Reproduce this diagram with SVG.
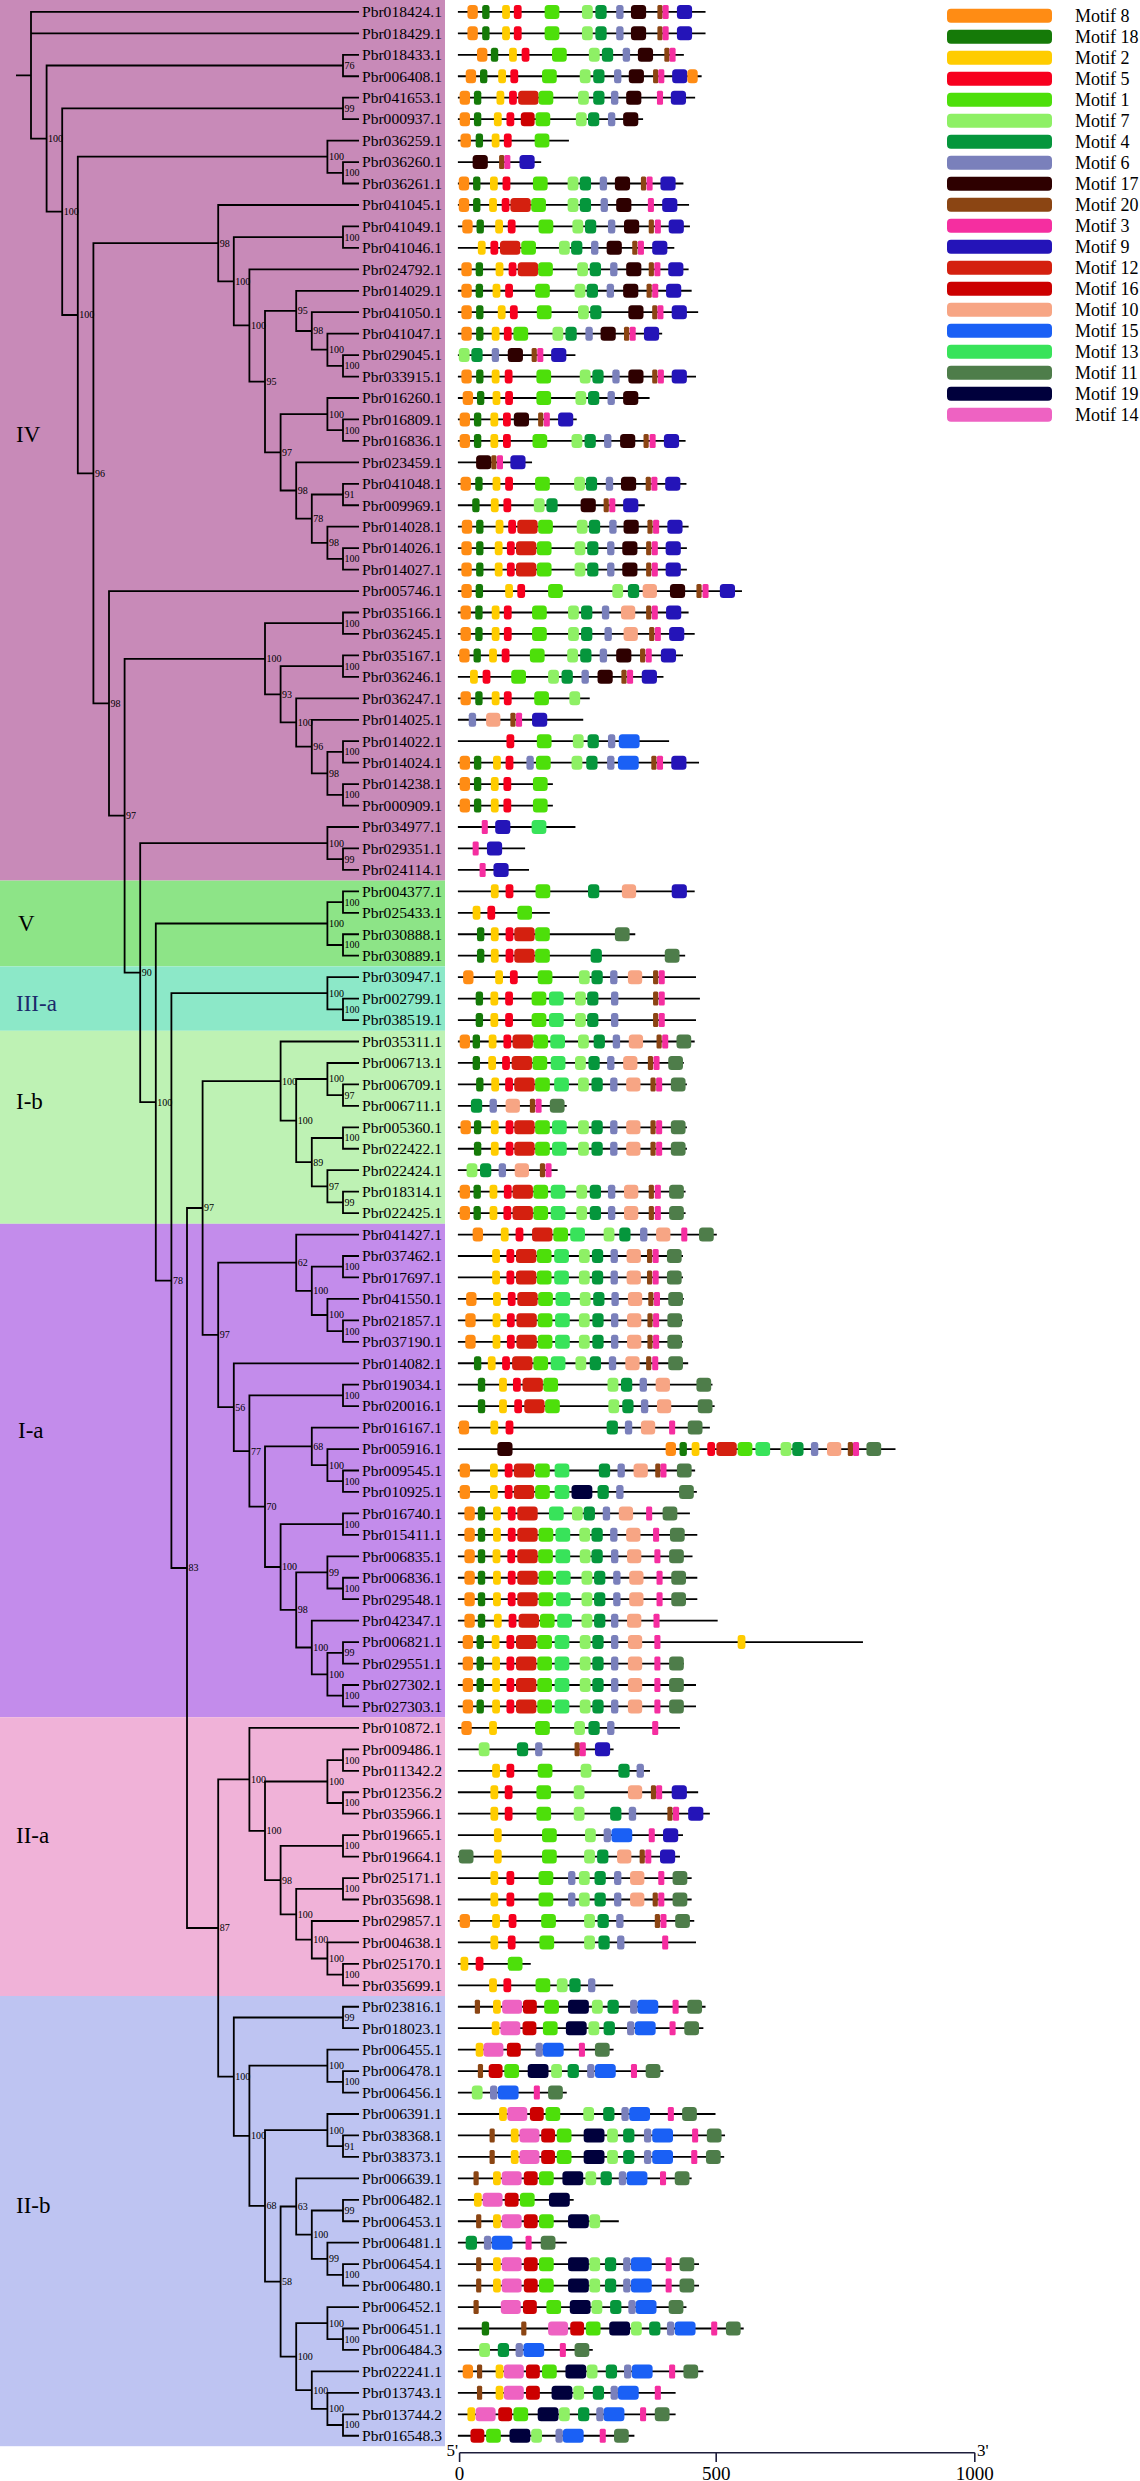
<svg xmlns="http://www.w3.org/2000/svg" width="1140" height="2481" viewBox="0 0 1140 2481">
<style>
.tree path{fill:none;stroke:#000;stroke-width:1.8}
.bs text{font:10px "Liberation Serif",serif;fill:#000}
.row text{font:15px "Liberation Serif",serif;fill:#000}
.row path{stroke:#000;stroke-width:1.8;fill:none}
.cl{font:23px "Liberation Serif",serif;fill:#000}
.lg text{font:18px "Liberation Serif",serif;fill:#000}
.ax text{font:19px "Liberation Serif",serif;fill:#000}
</style>
<defs>
<rect id="m8" y="-7" width="24" height="14" rx="8" ry="3.5" fill="#ff8c14"/>
<rect id="m18" y="-7" width="17" height="14" rx="5" ry="2.5" fill="#157a08"/>
<rect id="m2" y="-7" width="18" height="14" rx="6" ry="3" fill="#ffcc00"/>
<rect id="m5" y="-7" width="18" height="14" rx="6" ry="3" fill="#f7001e"/>
<rect id="m1" y="-7" width="34" height="14" rx="8" ry="3.5" fill="#4ddf0a"/>
<rect id="m7" y="-7" width="25" height="14" rx="8" ry="3.5" fill="#8ef065"/>
<rect id="m4" y="-7" width="26" height="14" rx="8" ry="3.5" fill="#05963c"/>
<rect id="m6" y="-7" width="17" height="14" rx="5" ry="2.5" fill="#7a80bb"/>
<rect id="m17" y="-7" width="35" height="14" rx="8" ry="3.5" fill="#2e0000"/>
<rect id="m20" y="-7" width="12" height="14" rx="3" ry="1.5" fill="#8b4513"/>
<rect id="m3" y="-7" width="14" height="14" rx="3" ry="1.5" fill="#f52ea0"/>
<rect id="m9" y="-7" width="35" height="14" rx="8" ry="3.5" fill="#2414b8"/>
<rect id="m12" y="-7" width="47" height="14" rx="8" ry="3.5" fill="#d4200f"/>
<rect id="m16" y="-7" width="32" height="14" rx="8" ry="3.5" fill="#cc0000"/>
<rect id="m10" y="-7" width="33" height="14" rx="8" ry="3.5" fill="#f7a584"/>
<rect id="m15" y="-7" width="48" height="14" rx="8" ry="3.5" fill="#1a60f5"/>
<rect id="m13" y="-7" width="34" height="14" rx="8" ry="3.5" fill="#38e35a"/>
<rect id="m11" y="-7" width="34" height="14" rx="8" ry="3.5" fill="#4e7d4a"/>
<rect id="m19" y="-7" width="48" height="14" rx="8" ry="3.5" fill="#00003c"/>
<rect id="m14" y="-7" width="46" height="14" rx="8" ry="3.5" fill="#ee62c2"/>
</defs>
<rect width="1140" height="2481" fill="#fff"/>
<g id="bands">
<rect x="0" y="0" width="445" height="880.6" fill="#c88ab8"/>
<rect x="0" y="880.6" width="445" height="85.8" fill="#8de487"/>
<rect x="0" y="966.4" width="445" height="64.4" fill="#8ce8c8"/>
<rect x="0" y="1030.8" width="445" height="193" fill="#bef2b4"/>
<rect x="0" y="1223.8" width="445" height="493.4" fill="#c38ceb"/>
<rect x="0" y="1717.2" width="445" height="278.8" fill="#f0b2d8"/>
<rect x="0" y="1996" width="445" height="450.2" fill="#bec4f2"/>
</g>
<g id="clades">
<text class="cl" x="16" y="441.7">IV</text>
<text class="cl" x="18" y="930.5">V</text>
<text class="cl" x="16" y="1011" style="fill:#1b2a6b">III-a</text>
<text class="cl" x="16" y="1109">I-b</text>
<text class="cl" x="18" y="1438">I-a</text>
<text class="cl" x="16" y="1843">II-a</text>
<text class="cl" x="16" y="2212.5">II-b</text>
</g>
<g id="connectors" class="tree" transform="translate(0,1.2)">
<path d="M16 74.1H31M359 10.7H31V137.4H46.6M31 32.15H359"/>
<path d="M343 64.3H46.6V210.5H62.2"/>
<path d="M343 107.2H62.2V313.8H77.8"/>
<path d="M327.4 155.5H77.8V472.1H93.4"/>
<path d="M359 139.4H327.4V171.6H343"/>
<path d="M218.2 241.9H93.4V702.2H109"/>
<path d="M359 203.8H218.2V280.1H233.8"/>
<path d="M343 235.9H233.8V324.2H249.4"/>
<path d="M359 268.1H249.4V380.4H265"/>
<path d="M296.2 309.7H265V451.1H280.6"/>
<path d="M359 289.6H296.2V329.8H311.8"/>
<path d="M359 311H311.8V348.5H327.4"/>
<path d="M359 332.5H327.4V364.6H343"/>
<path d="M327.4 412.9H280.6V489.3H296.2"/>
<path d="M359 396.8H327.4V429H343"/>
<path d="M359 461.2H296.2V517.5H311.8"/>
<path d="M343 493.3H311.8V541.6H327.4"/>
<path d="M359 525.5H327.4V557.7H343"/>
<path d="M359 589.9H109V814.5H124.6"/>
<path d="M265 657.6H124.6V971.4H140.2"/>
<path d="M343 622H265V693.1H280.6"/>
<path d="M343 664.9H280.6V721.2H296.2"/>
<path d="M359 697.1H296.2V745.4H311.8"/>
<path d="M359 718.6H311.8V772.2H327.4"/>
<path d="M343 750.7H327.4V793.6H343"/>
<path d="M327.4 841.9H140.2V1100.9H155.8"/>
<path d="M359 825.8H327.4V858H343"/>
<path d="M327.4 922.3H155.8V1279.4H171.4"/>
<path d="M343 900.9H327.4V943.8H343"/>
<path d="M327.4 992H171.4V1566.8H187"/>
<path d="M359 976H327.4V1008.1H343"/>
<path d="M202.6 1206.8H187V1926.8H218.2"/>
<path d="M280.6 1079.9H202.6V1333.7H218.2"/>
<path d="M359 1040.3H280.6V1119.4H296.2"/>
<path d="M327.4 1077.8H296.2V1161H311.8"/>
<path d="M359 1061.8H327.4V1093.9H343"/>
<path d="M343 1136.8H311.8V1185.1H327.4"/>
<path d="M359 1169H327.4V1201.2H343"/>
<path d="M296.2 1261.5H218.2V1406H233.8"/>
<path d="M359 1233.4H296.2V1289.7H311.8"/>
<path d="M343 1265.5H311.8V1313.8H327.4"/>
<path d="M359 1297.7H327.4V1329.9H343"/>
<path d="M359 1362.1H233.8V1449.9H249.4"/>
<path d="M343 1394.2H249.4V1505.5H265"/>
<path d="M311.8 1445.2H265V1565.8H280.6"/>
<path d="M359 1426.4H311.8V1463.9H327.4"/>
<path d="M359 1447.9H327.4V1480H343"/>
<path d="M343 1522.9H280.6V1608.7H296.2"/>
<path d="M327.4 1571.2H296.2V1646.3H311.8"/>
<path d="M359 1555.1H327.4V1587.3H343"/>
<path d="M359 1619.5H311.8V1673.1H327.4"/>
<path d="M343 1651.6H327.4V1694.5H343"/>
<path d="M249.4 1778.2H218.2V2075.4H233.8"/>
<path d="M359 1726.7H249.4V1829.6H265"/>
<path d="M327.4 1780.3H265V1878.9H280.6"/>
<path d="M343 1758.9H327.4V1801.8H343"/>
<path d="M343 1844.7H280.6V1913.1H296.2"/>
<path d="M343 1887.6H296.2V1938.5H311.8"/>
<path d="M359 1919.8H311.8V1957.3H327.4"/>
<path d="M359 1941.2H327.4V1973.4H343"/>
<path d="M343 2016.3H233.8V2134.6H249.4"/>
<path d="M327.4 2064.5H249.4V2204.6H265"/>
<path d="M359 2048.5H327.4V2080.6H343"/>
<path d="M327.4 2128.9H265V2280.4H280.6"/>
<path d="M359 2112.8H327.4V2145H343"/>
<path d="M296.2 2205.3H280.6V2355.5H296.2"/>
<path d="M359 2177.2H296.2V2233.5H311.8"/>
<path d="M343 2209.3H311.8V2257.6H327.4"/>
<path d="M359 2241.5H327.4V2273.7H343"/>
<path d="M327.4 2321.9H296.2V2389H311.8"/>
<path d="M359 2305.9H327.4V2338H343"/>
<path d="M359 2370.2H311.8V2407.7H327.4"/>
<path d="M359 2391.7H327.4V2423.8H343"/>
<path d="M359 53.6H343V75.05H359M359 96.5H343V117.95H359M359 160.85H343V182.3H359M359 225.2H343V246.65H359M359 353.9H343V375.35H359M359 418.25H343V439.7H359M359 482.6H343V504.05H359M359 546.95H343V568.4H359M359 611.3H343V632.75H359M359 654.2H343V675.65H359M359 740H343V761.45H359M359 782.9H343V804.35H359M359 847.25H343V868.7H359M359 890.15H343V911.6H359M359 933.05H343V954.5H359M359 997.4H343V1018.85H359M359 1083.2H343V1104.65H359M359 1126.1H343V1147.55H359M359 1190.45H343V1211.9H359M359 1254.8H343V1276.25H359M359 1319.15H343V1340.6H359M359 1383.5H343V1404.95H359M359 1469.3H343V1490.75H359M359 1512.2H343V1533.65H359M359 1576.55H343V1598H359M359 1640.9H343V1662.35H359M359 1683.8H343V1705.25H359M359 1748.15H343V1769.6H359M359 1791.05H343V1812.5H359M359 1833.95H343V1855.4H359M359 1876.85H343V1898.3H359M359 1962.65H343V1984.1H359M359 2005.55H343V2027H359M359 2069.9H343V2091.35H359M359 2134.25H343V2155.7H359M359 2198.6H343V2220.05H359M359 2262.95H343V2284.4H359M359 2327.3H343V2348.75H359M359 2413.1H343V2434.55H359"/>
</g>
<g id="bootstrap" class="bs" transform="translate(0,1.2)">
<text x="48.1" y="140.9">100</text><text x="63.7" y="214">100</text><text x="79.3" y="317.3">100</text><text x="94.9" y="475.6">96</text><text x="110.5" y="705.7">98</text><text x="126.1" y="818">97</text><text x="141.7" y="974.9">90</text><text x="157.3" y="1104.4">100</text><text x="172.9" y="1282.9">78</text><text x="188.5" y="1570.3">83</text><text x="204.1" y="1210.3">97</text>
<text x="219.7" y="245.4">98</text><text x="235.3" y="283.6">100</text><text x="250.9" y="327.7">100</text><text x="266.5" y="383.9">95</text><text x="297.7" y="313.2">95</text><text x="313.3" y="333.3">98</text><text x="328.9" y="352">100</text><text x="344.5" y="368.1">100</text><text x="282.1" y="454.6">97</text><text x="328.9" y="416.4">100</text><text x="344.5" y="432.5">100</text><text x="297.7" y="492.8">98</text><text x="313.3" y="521">78</text><text x="344.5" y="496.8">91</text><text x="328.9" y="545.1">98</text><text x="344.5" y="561.2">100</text>
<text x="344.5" y="67.8">76</text><text x="344.5" y="110.7">99</text><text x="328.9" y="159">100</text><text x="344.5" y="175.1">100</text><text x="344.5" y="239.4">100</text>
<text x="266.5" y="661.1">100</text><text x="344.5" y="625.5">100</text><text x="282.1" y="696.6">93</text><text x="344.5" y="668.4">100</text><text x="297.7" y="724.7">100</text><text x="313.3" y="748.9">96</text><text x="328.9" y="775.7">98</text><text x="344.5" y="754.2">100</text><text x="344.5" y="797.1">100</text>
<text x="328.9" y="845.4">100</text><text x="344.5" y="861.5">99</text><text x="328.9" y="925.8">100</text><text x="344.5" y="904.4">100</text><text x="344.5" y="947.3">100</text><text x="328.9" y="995.5">100</text><text x="344.5" y="1011.6">100</text>
<text x="282.1" y="1083.4">100</text><text x="297.7" y="1122.9">100</text><text x="328.9" y="1081.3">100</text><text x="344.5" y="1097.4">97</text><text x="313.3" y="1164.5">89</text><text x="344.5" y="1140.3">100</text><text x="328.9" y="1188.6">97</text><text x="344.5" y="1204.7">99</text>
<text x="219.7" y="1337.2">97</text><text x="297.7" y="1265">62</text><text x="313.3" y="1293.2">100</text><text x="344.5" y="1269">100</text><text x="328.9" y="1317.3">100</text><text x="344.5" y="1333.4">100</text><text x="235.3" y="1409.5">56</text><text x="250.9" y="1453.4">77</text><text x="344.5" y="1397.7">100</text><text x="266.5" y="1509">70</text><text x="313.3" y="1448.7">68</text><text x="328.9" y="1467.4">100</text><text x="344.5" y="1483.5">100</text><text x="282.1" y="1569.3">100</text><text x="344.5" y="1526.4">100</text><text x="297.7" y="1612.2">98</text><text x="328.9" y="1574.7">99</text><text x="344.5" y="1590.8">100</text><text x="313.3" y="1649.8">100</text><text x="328.9" y="1676.6">100</text><text x="344.5" y="1655.1">99</text><text x="344.5" y="1698">100</text>
<text x="219.7" y="1930.3">87</text><text x="250.9" y="1781.7">100</text><text x="266.5" y="1833.1">100</text><text x="328.9" y="1783.8">100</text><text x="344.5" y="1762.4">100</text><text x="344.5" y="1805.3">100</text><text x="282.1" y="1882.4">98</text><text x="344.5" y="1848.2">100</text><text x="297.7" y="1916.6">100</text><text x="344.5" y="1891.1">100</text><text x="313.3" y="1942">100</text><text x="328.9" y="1960.8">100</text><text x="344.5" y="1976.9">100</text>
<text x="235.3" y="2078.9">100</text><text x="344.5" y="2019.8">99</text><text x="250.9" y="2138.1">100</text><text x="328.9" y="2068">100</text><text x="344.5" y="2084.1">100</text><text x="266.5" y="2208.1">68</text><text x="328.9" y="2132.4">100</text><text x="344.5" y="2148.5">91</text><text x="282.1" y="2283.9">58</text><text x="297.7" y="2208.8">63</text><text x="313.3" y="2237">100</text><text x="344.5" y="2212.8">99</text><text x="328.9" y="2261.1">99</text><text x="344.5" y="2277.2">100</text><text x="297.7" y="2359">100</text><text x="328.9" y="2325.4">100</text><text x="344.5" y="2341.5">100</text><text x="313.3" y="2392.5">100</text><text x="328.9" y="2411.2">100</text><text x="344.5" y="2427.3">100</text>
</g>
<g id="genes" transform="translate(0,1.2)">
<g class="row" id="Pbr018424_1" transform="translate(0,10.7)"><text x="362" y="5.3" textLength="80" lengthAdjust="spacingAndGlyphs">Pbr018424.1</text><g transform="matrix(.4337 0 0 1 310 0)"><path d="M341 0H912"/><use href="#m8" x="363"/><use href="#m18" x="397"/><use href="#m2" x="443"/><use href="#m5" x="470"/><use href="#m1" x="541"/><use href="#m7" x="627"/><use href="#m4" x="658"/><use href="#m6" x="706"/><use href="#m17" x="740"/><use href="#m20" x="801"/><use href="#m3" x="813"/><use href="#m9" x="846"/></g></g>
<g class="row" id="Pbr018429_1" transform="translate(0,32.15)"><text x="362" y="5.3" textLength="80" lengthAdjust="spacingAndGlyphs">Pbr018429.1</text><g transform="matrix(.4337 0 0 1 310 0)"><path d="M341 0H912"/><use href="#m8" x="363"/><use href="#m18" x="397"/><use href="#m2" x="443"/><use href="#m5" x="470"/><use href="#m1" x="541"/><use href="#m7" x="627"/><use href="#m4" x="658"/><use href="#m6" x="706"/><use href="#m17" x="740"/><use href="#m20" x="801"/><use href="#m3" x="813"/><use href="#m9" x="846"/></g></g>
<g class="row" id="Pbr018433_1" transform="translate(0,53.6)"><text x="362" y="5.3" textLength="80" lengthAdjust="spacingAndGlyphs">Pbr018433.1</text><g transform="matrix(.4337 0 0 1 310 0)"><path d="M341 0H862"/><use href="#m8" x="385"/><use href="#m18" x="417"/><use href="#m2" x="459"/><use href="#m5" x="488"/><use href="#m1" x="558"/><use href="#m7" x="643"/><use href="#m4" x="673"/><use href="#m6" x="721"/><use href="#m17" x="756"/><use href="#m20" x="817"/><use href="#m3" x="829"/></g></g>
<g class="row" id="Pbr006408_1" transform="translate(0,75.05)"><text x="362" y="5.3" textLength="80" lengthAdjust="spacingAndGlyphs">Pbr006408.1</text><g transform="matrix(.4337 0 0 1 310 0)"><path d="M341 0H903"/><use href="#m8" x="359"/><use href="#m18" x="392"/><use href="#m2" x="434"/><use href="#m5" x="462"/><use href="#m1" x="535"/><use href="#m7" x="622"/><use href="#m4" x="653"/><use href="#m6" x="701"/><use href="#m17" x="735"/><use href="#m20" x="791"/><use href="#m3" x="803"/><use href="#m9" x="835"/><use href="#m8" x="870"/></g></g>
<g class="row" id="Pbr041653_1" transform="translate(0,96.5)"><text x="362" y="5.3" textLength="80" lengthAdjust="spacingAndGlyphs">Pbr041653.1</text><g transform="matrix(.4337 0 0 1 310 0)"><path d="M341 0H888"/><use href="#m8" x="345"/><use href="#m18" x="378"/><use href="#m2" x="430"/><use href="#m5" x="459"/><use href="#m12" x="480"/><use href="#m1" x="527"/><use href="#m7" x="618"/><use href="#m4" x="653"/><use href="#m6" x="694"/><use href="#m17" x="729"/><use href="#m3" x="800"/><use href="#m9" x="832"/></g></g>
<g class="row" id="Pbr000937_1" transform="translate(0,117.95)"><text x="362" y="5.3" textLength="80" lengthAdjust="spacingAndGlyphs">Pbr000937.1</text><g transform="matrix(.4337 0 0 1 310 0)"><path d="M341 0H768"/><use href="#m8" x="345"/><use href="#m18" x="378"/><use href="#m2" x="424"/><use href="#m5" x="453"/><use href="#m16" x="486"/><use href="#m1" x="520"/><use href="#m7" x="613"/><use href="#m4" x="641"/><use href="#m6" x="687"/><use href="#m17" x="722"/></g></g>
<g class="row" id="Pbr036259_1" transform="translate(0,139.4)"><text x="362" y="5.3" textLength="80" lengthAdjust="spacingAndGlyphs">Pbr036259.1</text><g transform="matrix(.4337 0 0 1 310 0)"><path d="M341 0H597"/><use href="#m8" x="347"/><use href="#m18" x="382"/><use href="#m2" x="419"/><use href="#m5" x="447"/><use href="#m1" x="518"/></g></g>
<g class="row" id="Pbr036260_1" transform="translate(0,160.85)"><text x="362" y="5.3" textLength="80" lengthAdjust="spacingAndGlyphs">Pbr036260.1</text><g transform="matrix(.4337 0 0 1 310 0)"><path d="M341 0H533"/><use href="#m17" x="375"/><use href="#m20" x="436"/><use href="#m3" x="448"/><use href="#m9" x="483"/></g></g>
<g class="row" id="Pbr036261_1" transform="translate(0,182.3)"><text x="362" y="5.3" textLength="80" lengthAdjust="spacingAndGlyphs">Pbr036261.1</text><g transform="matrix(.4337 0 0 1 310 0)"><path d="M341 0H861"/><use href="#m8" x="343"/><use href="#m18" x="376"/><use href="#m2" x="415"/><use href="#m5" x="444"/><use href="#m1" x="514"/><use href="#m7" x="594"/><use href="#m4" x="622"/><use href="#m6" x="668"/><use href="#m17" x="703"/><use href="#m20" x="763"/><use href="#m3" x="776"/><use href="#m9" x="808"/></g></g>
<g class="row" id="Pbr041045_1" transform="translate(0,203.75)"><text x="362" y="5.3" textLength="80" lengthAdjust="spacingAndGlyphs">Pbr041045.1</text><g transform="matrix(.4337 0 0 1 310 0)"><path d="M341 0H874"/><use href="#m8" x="343"/><use href="#m18" x="376"/><use href="#m2" x="413"/><use href="#m5" x="442"/><use href="#m12" x="462"/><use href="#m1" x="510"/><use href="#m7" x="594"/><use href="#m4" x="622"/><use href="#m6" x="670"/><use href="#m17" x="706"/><use href="#m3" x="779"/><use href="#m9" x="812"/></g></g>
<g class="row" id="Pbr041049_1" transform="translate(0,225.2)"><text x="362" y="5.3" textLength="80" lengthAdjust="spacingAndGlyphs">Pbr041049.1</text><g transform="matrix(.4337 0 0 1 310 0)"><path d="M341 0H876"/><use href="#m8" x="351"/><use href="#m18" x="384"/><use href="#m2" x="427"/><use href="#m5" x="456"/><use href="#m1" x="527"/><use href="#m7" x="605"/><use href="#m4" x="634"/><use href="#m6" x="687"/><use href="#m17" x="724"/><use href="#m20" x="781"/><use href="#m3" x="795"/><use href="#m9" x="827"/></g></g>
<g class="row" id="Pbr041046_1" transform="translate(0,246.65)"><text x="362" y="5.3" textLength="80" lengthAdjust="spacingAndGlyphs">Pbr041046.1</text><g transform="matrix(.4337 0 0 1 310 0)"><path d="M341 0H840"/><use href="#m2" x="387"/><use href="#m5" x="416"/><use href="#m12" x="438"/><use href="#m1" x="487"/><use href="#m7" x="574"/><use href="#m4" x="602"/><use href="#m6" x="648"/><use href="#m17" x="684"/><use href="#m20" x="743"/><use href="#m3" x="756"/><use href="#m9" x="789"/></g></g>
<g class="row" id="Pbr024792_1" transform="translate(0,268.1)"><text x="362" y="5.3" textLength="80" lengthAdjust="spacingAndGlyphs">Pbr024792.1</text><g transform="matrix(.4337 0 0 1 310 0)"><path d="M341 0H873"/><use href="#m8" x="349"/><use href="#m18" x="382"/><use href="#m2" x="428"/><use href="#m5" x="458"/><use href="#m12" x="479"/><use href="#m1" x="526"/><use href="#m7" x="616"/><use href="#m4" x="645"/><use href="#m6" x="692"/><use href="#m17" x="729"/><use href="#m20" x="781"/><use href="#m3" x="794"/><use href="#m9" x="826"/></g></g>
<g class="row" id="Pbr014029_1" transform="translate(0,289.55)"><text x="362" y="5.3" textLength="80" lengthAdjust="spacingAndGlyphs">Pbr014029.1</text><g transform="matrix(.4337 0 0 1 310 0)"><path d="M341 0H880"/><use href="#m8" x="349"/><use href="#m18" x="382"/><use href="#m2" x="421"/><use href="#m5" x="450"/><use href="#m1" x="519"/><use href="#m7" x="610"/><use href="#m4" x="638"/><use href="#m6" x="684"/><use href="#m17" x="722"/><use href="#m20" x="776"/><use href="#m3" x="789"/><use href="#m9" x="821"/></g></g>
<g class="row" id="Pbr041050_1" transform="translate(0,311)"><text x="362" y="5.3" textLength="80" lengthAdjust="spacingAndGlyphs">Pbr041050.1</text><g transform="matrix(.4337 0 0 1 310 0)"><path d="M341 0H895"/><use href="#m8" x="349"/><use href="#m18" x="383"/><use href="#m2" x="433"/><use href="#m5" x="461"/><use href="#m1" x="523"/><use href="#m7" x="618"/><use href="#m4" x="646"/><use href="#m17" x="734"/><use href="#m20" x="789"/><use href="#m3" x="801"/><use href="#m9" x="834"/></g></g>
<g class="row" id="Pbr041047_1" transform="translate(0,332.45)"><text x="362" y="5.3" textLength="80" lengthAdjust="spacingAndGlyphs">Pbr041047.1</text><g transform="matrix(.4337 0 0 1 310 0)"><path d="M341 0H812"/><use href="#m8" x="349"/><use href="#m18" x="383"/><use href="#m2" x="419"/><use href="#m5" x="447"/><use href="#m1" x="469"/><use href="#m7" x="559"/><use href="#m4" x="589"/><use href="#m6" x="635"/><use href="#m17" x="670"/><use href="#m20" x="724"/><use href="#m3" x="737"/><use href="#m9" x="770"/></g></g>
<g class="row" id="Pbr029045_1" transform="translate(0,353.9)"><text x="362" y="5.3" textLength="80" lengthAdjust="spacingAndGlyphs">Pbr029045.1</text><g transform="matrix(.4337 0 0 1 310 0)"><path d="M341 0H612"/><use href="#m7" x="343"/><use href="#m4" x="372"/><use href="#m6" x="419"/><use href="#m17" x="456"/><use href="#m20" x="511"/><use href="#m3" x="524"/><use href="#m9" x="556"/></g></g>
<g class="row" id="Pbr033915_1" transform="translate(0,375.35)"><text x="362" y="5.3" textLength="80" lengthAdjust="spacingAndGlyphs">Pbr033915.1</text><g transform="matrix(.4337 0 0 1 310 0)"><path d="M341 0H890"/><use href="#m8" x="349"/><use href="#m18" x="383"/><use href="#m2" x="419"/><use href="#m5" x="449"/><use href="#m1" x="522"/><use href="#m7" x="622"/><use href="#m4" x="651"/><use href="#m6" x="697"/><use href="#m17" x="734"/><use href="#m20" x="789"/><use href="#m3" x="802"/><use href="#m9" x="834"/></g></g>
<g class="row" id="Pbr016260_1" transform="translate(0,396.8)"><text x="362" y="5.3" textLength="80" lengthAdjust="spacingAndGlyphs">Pbr016260.1</text><g transform="matrix(.4337 0 0 1 310 0)"><path d="M341 0H783"/><use href="#m8" x="352"/><use href="#m18" x="385"/><use href="#m2" x="421"/><use href="#m5" x="450"/><use href="#m1" x="522"/><use href="#m7" x="612"/><use href="#m4" x="641"/><use href="#m6" x="686"/><use href="#m17" x="722"/></g></g>
<g class="row" id="Pbr016809_1" transform="translate(0,418.25)"><text x="362" y="5.3" textLength="80" lengthAdjust="spacingAndGlyphs">Pbr016809.1</text><g transform="matrix(.4337 0 0 1 310 0)"><path d="M341 0H615"/><use href="#m8" x="345"/><use href="#m18" x="378"/><use href="#m2" x="416"/><use href="#m5" x="445"/><use href="#m17" x="470"/><use href="#m20" x="526"/><use href="#m3" x="539"/><use href="#m9" x="572"/></g></g>
<g class="row" id="Pbr016836_1" transform="translate(0,439.7)"><text x="362" y="5.3" textLength="80" lengthAdjust="spacingAndGlyphs">Pbr016836.1</text><g transform="matrix(.4337 0 0 1 310 0)"><path d="M341 0H866"/><use href="#m8" x="345"/><use href="#m18" x="378"/><use href="#m2" x="416"/><use href="#m5" x="445"/><use href="#m1" x="513"/><use href="#m7" x="603"/><use href="#m4" x="633"/><use href="#m6" x="678"/><use href="#m17" x="715"/><use href="#m20" x="769"/><use href="#m3" x="783"/><use href="#m9" x="816"/></g></g>
<g class="row" id="Pbr023459_1" transform="translate(0,461.15)"><text x="362" y="5.3" textLength="80" lengthAdjust="spacingAndGlyphs">Pbr023459.1</text><g transform="matrix(.4337 0 0 1 310 0)"><path d="M341 0H512"/><use href="#m17" x="383"/><use href="#m20" x="418"/><use href="#m3" x="431"/><use href="#m9" x="462"/></g></g>
<g class="row" id="Pbr041048_1" transform="translate(0,482.6)"><text x="362" y="5.3" textLength="80" lengthAdjust="spacingAndGlyphs">Pbr041048.1</text><g transform="matrix(.4337 0 0 1 310 0)"><path d="M341 0H868"/><use href="#m8" x="347"/><use href="#m18" x="381"/><use href="#m2" x="421"/><use href="#m5" x="450"/><use href="#m1" x="519"/><use href="#m7" x="609"/><use href="#m4" x="636"/><use href="#m6" x="682"/><use href="#m17" x="717"/><use href="#m20" x="774"/><use href="#m3" x="787"/><use href="#m9" x="819"/></g></g>
<g class="row" id="Pbr009969_1" transform="translate(0,504.05)"><text x="362" y="5.3" textLength="80" lengthAdjust="spacingAndGlyphs">Pbr009969.1</text><g transform="matrix(.4337 0 0 1 310 0)"><path d="M341 0H772"/><use href="#m18" x="374"/><use href="#m2" x="417"/><use href="#m5" x="446"/><use href="#m7" x="516"/><use href="#m4" x="545"/><use href="#m17" x="624"/><use href="#m20" x="677"/><use href="#m3" x="690"/><use href="#m9" x="722"/></g></g>
<g class="row" id="Pbr014028_1" transform="translate(0,525.5)"><text x="362" y="5.3" textLength="80" lengthAdjust="spacingAndGlyphs">Pbr014028.1</text><g transform="matrix(.4337 0 0 1 310 0)"><path d="M341 0H873"/><use href="#m8" x="350"/><use href="#m18" x="383"/><use href="#m2" x="428"/><use href="#m5" x="457"/><use href="#m12" x="478"/><use href="#m1" x="526"/><use href="#m7" x="615"/><use href="#m4" x="643"/><use href="#m6" x="690"/><use href="#m17" x="723"/><use href="#m20" x="778"/><use href="#m3" x="791"/><use href="#m9" x="824"/></g></g>
<g class="row" id="Pbr014026_1" transform="translate(0,546.95)"><text x="362" y="5.3" textLength="80" lengthAdjust="spacingAndGlyphs">Pbr014026.1</text><g transform="matrix(.4337 0 0 1 310 0)"><path d="M341 0H869"/><use href="#m8" x="349"/><use href="#m18" x="383"/><use href="#m2" x="426"/><use href="#m5" x="454"/><use href="#m12" x="475"/><use href="#m1" x="523"/><use href="#m7" x="610"/><use href="#m4" x="639"/><use href="#m6" x="685"/><use href="#m17" x="720"/><use href="#m20" x="775"/><use href="#m3" x="788"/><use href="#m9" x="820"/></g></g>
<g class="row" id="Pbr014027_1" transform="translate(0,568.4)"><text x="362" y="5.3" textLength="80" lengthAdjust="spacingAndGlyphs">Pbr014027.1</text><g transform="matrix(.4337 0 0 1 310 0)"><path d="M341 0H869"/><use href="#m8" x="349"/><use href="#m18" x="383"/><use href="#m2" x="426"/><use href="#m5" x="454"/><use href="#m12" x="475"/><use href="#m1" x="523"/><use href="#m7" x="610"/><use href="#m4" x="639"/><use href="#m6" x="685"/><use href="#m17" x="720"/><use href="#m20" x="775"/><use href="#m3" x="788"/><use href="#m9" x="820"/></g></g>
<g class="row" id="Pbr005746_1" transform="translate(0,589.85)"><text x="362" y="5.3" textLength="80" lengthAdjust="spacingAndGlyphs">Pbr005746.1</text><g transform="matrix(.4337 0 0 1 310 0)"><path d="M341 0H996"/><use href="#m8" x="349"/><use href="#m18" x="382"/><use href="#m2" x="450"/><use href="#m5" x="478"/><use href="#m1" x="549"/><use href="#m7" x="697"/><use href="#m4" x="733"/><use href="#m10" x="767"/><use href="#m17" x="830"/><use href="#m20" x="891"/><use href="#m3" x="905"/><use href="#m9" x="945"/></g></g>
<g class="row" id="Pbr035166_1" transform="translate(0,611.3)"><text x="362" y="5.3" textLength="80" lengthAdjust="spacingAndGlyphs">Pbr035166.1</text><g transform="matrix(.4337 0 0 1 310 0)"><path d="M341 0H873"/><use href="#m8" x="347"/><use href="#m18" x="381"/><use href="#m2" x="419"/><use href="#m5" x="447"/><use href="#m1" x="512"/><use href="#m7" x="595"/><use href="#m4" x="625"/><use href="#m6" x="673"/><use href="#m10" x="717"/><use href="#m20" x="775"/><use href="#m3" x="788"/><use href="#m9" x="821"/></g></g>
<g class="row" id="Pbr036245_1" transform="translate(0,632.75)"><text x="362" y="5.3" textLength="80" lengthAdjust="spacingAndGlyphs">Pbr036245.1</text><g transform="matrix(.4337 0 0 1 310 0)"><path d="M341 0H887"/><use href="#m8" x="347"/><use href="#m18" x="381"/><use href="#m2" x="419"/><use href="#m5" x="447"/><use href="#m1" x="512"/><use href="#m7" x="595"/><use href="#m4" x="625"/><use href="#m6" x="679"/><use href="#m10" x="723"/><use href="#m20" x="782"/><use href="#m3" x="795"/><use href="#m9" x="828"/></g></g>
<g class="row" id="Pbr035167_1" transform="translate(0,654.2)"><text x="362" y="5.3" textLength="80" lengthAdjust="spacingAndGlyphs">Pbr035167.1</text><g transform="matrix(.4337 0 0 1 310 0)"><path d="M341 0H860"/><use href="#m8" x="344"/><use href="#m18" x="377"/><use href="#m2" x="413"/><use href="#m5" x="442"/><use href="#m1" x="507"/><use href="#m7" x="593"/><use href="#m4" x="623"/><use href="#m6" x="668"/><use href="#m17" x="706"/><use href="#m20" x="761"/><use href="#m3" x="774"/><use href="#m9" x="809"/></g></g>
<g class="row" id="Pbr036246_1" transform="translate(0,675.65)"><text x="362" y="5.3" textLength="80" lengthAdjust="spacingAndGlyphs">Pbr036246.1</text><g transform="matrix(.4337 0 0 1 310 0)"><path d="M341 0H815"/><use href="#m2" x="369"/><use href="#m5" x="398"/><use href="#m1" x="464"/><use href="#m7" x="549"/><use href="#m4" x="580"/><use href="#m6" x="626"/><use href="#m17" x="663"/><use href="#m20" x="718"/><use href="#m3" x="731"/><use href="#m9" x="765"/></g></g>
<g class="row" id="Pbr036247_1" transform="translate(0,697.1)"><text x="362" y="5.3" textLength="80" lengthAdjust="spacingAndGlyphs">Pbr036247.1</text><g transform="matrix(.4337 0 0 1 310 0)"><path d="M341 0H645"/><use href="#m8" x="347"/><use href="#m18" x="381"/><use href="#m2" x="419"/><use href="#m5" x="447"/><use href="#m1" x="517"/><use href="#m7" x="598"/></g></g>
<g class="row" id="Pbr014025_1" transform="translate(0,718.55)"><text x="362" y="5.3" textLength="80" lengthAdjust="spacingAndGlyphs">Pbr014025.1</text><g transform="matrix(.4337 0 0 1 310 0)"><path d="M341 0H630"/><use href="#m6" x="366"/><use href="#m10" x="406"/><use href="#m20" x="462"/><use href="#m3" x="475"/><use href="#m9" x="512"/></g></g>
<g class="row" id="Pbr014022_1" transform="translate(0,740)"><text x="362" y="5.3" textLength="80" lengthAdjust="spacingAndGlyphs">Pbr014022.1</text><g transform="matrix(.4337 0 0 1 310 0)"><path d="M341 0H828"/><use href="#m5" x="453"/><use href="#m1" x="523"/><use href="#m7" x="606"/><use href="#m4" x="640"/><use href="#m6" x="687"/><use href="#m15" x="712"/></g></g>
<g class="row" id="Pbr014024_1" transform="translate(0,761.45)"><text x="362" y="5.3" textLength="80" lengthAdjust="spacingAndGlyphs">Pbr014024.1</text><g transform="matrix(.4337 0 0 1 310 0)"><path d="M341 0H897"/><use href="#m8" x="345"/><use href="#m18" x="378"/><use href="#m2" x="422"/><use href="#m5" x="451"/><use href="#m6" x="499"/><use href="#m1" x="521"/><use href="#m7" x="603"/><use href="#m4" x="637"/><use href="#m6" x="685"/><use href="#m15" x="710"/><use href="#m20" x="787"/><use href="#m3" x="800"/><use href="#m9" x="833"/></g></g>
<g class="row" id="Pbr014238_1" transform="translate(0,782.9)"><text x="362" y="5.3" textLength="80" lengthAdjust="spacingAndGlyphs">Pbr014238.1</text><g transform="matrix(.4337 0 0 1 310 0)"><path d="M341 0H560"/><use href="#m8" x="345"/><use href="#m18" x="378"/><use href="#m2" x="417"/><use href="#m5" x="446"/><use href="#m1" x="514"/></g></g>
<g class="row" id="Pbr000909_1" transform="translate(0,804.35)"><text x="362" y="5.3" textLength="80" lengthAdjust="spacingAndGlyphs">Pbr000909.1</text><g transform="matrix(.4337 0 0 1 310 0)"><path d="M341 0H560"/><use href="#m8" x="345"/><use href="#m18" x="378"/><use href="#m2" x="417"/><use href="#m5" x="446"/><use href="#m1" x="514"/></g></g>
<g class="row" id="Pbr034977_1" transform="translate(0,825.8)"><text x="362" y="5.3" textLength="80" lengthAdjust="spacingAndGlyphs">Pbr034977.1</text><g transform="matrix(.4337 0 0 1 310 0)"><path d="M341 0H612"/><use href="#m3" x="396"/><use href="#m9" x="427"/><use href="#m13" x="511"/></g></g>
<g class="row" id="Pbr029351_1" transform="translate(0,847.25)"><text x="362" y="5.3" textLength="80" lengthAdjust="spacingAndGlyphs">Pbr029351.1</text><g transform="matrix(.4337 0 0 1 310 0)"><path d="M341 0H496"/><use href="#m3" x="375"/><use href="#m9" x="408"/></g></g>
<g class="row" id="Pbr024114_1" transform="translate(0,868.7)"><text x="362" y="5.3" textLength="80" lengthAdjust="spacingAndGlyphs">Pbr024114.1</text><g transform="matrix(.4337 0 0 1 310 0)"><path d="M341 0H505"/><use href="#m3" x="391"/><use href="#m9" x="423"/></g></g>
<g class="row" id="Pbr004377_1" transform="translate(0,890.15)"><text x="362" y="5.3" textLength="80" lengthAdjust="spacingAndGlyphs">Pbr004377.1</text><g transform="matrix(.4337 0 0 1 310 0)"><path d="M341 0H887"/><use href="#m2" x="417"/><use href="#m5" x="451"/><use href="#m1" x="520"/><use href="#m4" x="641"/><use href="#m10" x="719"/><use href="#m9" x="834"/></g></g>
<g class="row" id="Pbr025433_1" transform="translate(0,911.6)"><text x="362" y="5.3" textLength="80" lengthAdjust="spacingAndGlyphs">Pbr025433.1</text><g transform="matrix(.4337 0 0 1 310 0)"><path d="M341 0H553"/><use href="#m2" x="375"/><use href="#m5" x="409"/><use href="#m1" x="478"/></g></g>
<g class="row" id="Pbr030888_1" transform="translate(0,933.05)"><text x="362" y="5.3" textLength="80" lengthAdjust="spacingAndGlyphs">Pbr030888.1</text><g transform="matrix(.4337 0 0 1 310 0)"><path d="M341 0H750"/><use href="#m18" x="385"/><use href="#m2" x="417"/><use href="#m5" x="451"/><use href="#m12" x="471"/><use href="#m1" x="519"/><use href="#m11" x="703"/></g></g>
<g class="row" id="Pbr030889_1" transform="translate(0,954.5)"><text x="362" y="5.3" textLength="80" lengthAdjust="spacingAndGlyphs">Pbr030889.1</text><g transform="matrix(.4337 0 0 1 310 0)"><path d="M341 0H865"/><use href="#m18" x="385"/><use href="#m2" x="417"/><use href="#m5" x="451"/><use href="#m12" x="471"/><use href="#m1" x="519"/><use href="#m4" x="647"/><use href="#m11" x="818"/></g></g>
<g class="row" id="Pbr030947_1" transform="translate(0,975.95)"><text x="362" y="5.3" textLength="80" lengthAdjust="spacingAndGlyphs">Pbr030947.1</text><g transform="matrix(.4337 0 0 1 310 0)"><path d="M341 0H890"/><use href="#m8" x="353"/><use href="#m2" x="427"/><use href="#m5" x="461"/><use href="#m1" x="525"/><use href="#m7" x="620"/><use href="#m4" x="649"/><use href="#m6" x="692"/><use href="#m10" x="733"/><use href="#m20" x="791"/><use href="#m3" x="804"/></g></g>
<g class="row" id="Pbr002799_1" transform="translate(0,997.4)"><text x="362" y="5.3" textLength="80" lengthAdjust="spacingAndGlyphs">Pbr002799.1</text><g transform="matrix(.4337 0 0 1 310 0)"><path d="M341 0H899"/><use href="#m18" x="382"/><use href="#m2" x="416"/><use href="#m5" x="450"/><use href="#m1" x="511"/><use href="#m13" x="551"/><use href="#m7" x="611"/><use href="#m4" x="639"/><use href="#m6" x="694"/><use href="#m20" x="791"/><use href="#m3" x="804"/></g></g>
<g class="row" id="Pbr038519_1" transform="translate(0,1018.85)"><text x="362" y="5.3" textLength="80" lengthAdjust="spacingAndGlyphs">Pbr038519.1</text><g transform="matrix(.4337 0 0 1 310 0)"><path d="M341 0H890"/><use href="#m18" x="382"/><use href="#m2" x="416"/><use href="#m5" x="450"/><use href="#m1" x="511"/><use href="#m13" x="551"/><use href="#m7" x="611"/><use href="#m4" x="639"/><use href="#m6" x="694"/><use href="#m20" x="791"/><use href="#m3" x="804"/></g></g>
<g class="row" id="Pbr035311_1" transform="translate(0,1040.3)"><text x="362" y="5.3" textLength="80" lengthAdjust="spacingAndGlyphs">Pbr035311.1</text><g transform="matrix(.4337 0 0 1 310 0)"><path d="M341 0H887"/><use href="#m8" x="345"/><use href="#m18" x="375"/><use href="#m2" x="412"/><use href="#m5" x="446"/><use href="#m12" x="467"/><use href="#m1" x="515"/><use href="#m13" x="554"/><use href="#m7" x="618"/><use href="#m4" x="654"/><use href="#m6" x="698"/><use href="#m10" x="735"/><use href="#m20" x="799"/><use href="#m3" x="812"/><use href="#m11" x="845"/></g></g>
<g class="row" id="Pbr006713_1" transform="translate(0,1061.75)"><text x="362" y="5.3" textLength="80" lengthAdjust="spacingAndGlyphs">Pbr006713.1</text><g transform="matrix(.4337 0 0 1 310 0)"><path d="M341 0H862"/><use href="#m18" x="375"/><use href="#m2" x="411"/><use href="#m5" x="443"/><use href="#m12" x="465"/><use href="#m1" x="513"/><use href="#m13" x="555"/><use href="#m7" x="611"/><use href="#m4" x="642"/><use href="#m6" x="685"/><use href="#m10" x="722"/><use href="#m20" x="779"/><use href="#m3" x="792"/><use href="#m11" x="826"/></g></g>
<g class="row" id="Pbr006709_1" transform="translate(0,1083.2)"><text x="362" y="5.3" textLength="80" lengthAdjust="spacingAndGlyphs">Pbr006709.1</text><g transform="matrix(.4337 0 0 1 310 0)"><path d="M341 0H869"/><use href="#m18" x="383"/><use href="#m2" x="418"/><use href="#m5" x="450"/><use href="#m12" x="471"/><use href="#m1" x="519"/><use href="#m13" x="563"/><use href="#m7" x="618"/><use href="#m4" x="649"/><use href="#m6" x="692"/><use href="#m10" x="729"/><use href="#m20" x="785"/><use href="#m3" x="798"/><use href="#m11" x="832"/></g></g>
<g class="row" id="Pbr006711_1" transform="translate(0,1104.65)"><text x="362" y="5.3" textLength="80" lengthAdjust="spacingAndGlyphs">Pbr006711.1</text><g transform="matrix(.4337 0 0 1 310 0)"><path d="M341 0H592"/><use href="#m4" x="371"/><use href="#m6" x="414"/><use href="#m10" x="451"/><use href="#m20" x="507"/><use href="#m3" x="520"/><use href="#m11" x="553"/></g></g>
<g class="row" id="Pbr005360_1" transform="translate(0,1126.1)"><text x="362" y="5.3" textLength="80" lengthAdjust="spacingAndGlyphs">Pbr005360.1</text><g transform="matrix(.4337 0 0 1 310 0)"><path d="M341 0H869"/><use href="#m8" x="347"/><use href="#m18" x="378"/><use href="#m2" x="417"/><use href="#m5" x="451"/><use href="#m12" x="471"/><use href="#m1" x="519"/><use href="#m13" x="558"/><use href="#m7" x="618"/><use href="#m4" x="649"/><use href="#m6" x="692"/><use href="#m10" x="729"/><use href="#m20" x="785"/><use href="#m3" x="798"/><use href="#m11" x="832"/></g></g>
<g class="row" id="Pbr022422_1" transform="translate(0,1147.55)"><text x="362" y="5.3" textLength="80" lengthAdjust="spacingAndGlyphs">Pbr022422.1</text><g transform="matrix(.4337 0 0 1 310 0)"><path d="M341 0H869"/><use href="#m18" x="378"/><use href="#m2" x="417"/><use href="#m5" x="451"/><use href="#m12" x="471"/><use href="#m1" x="519"/><use href="#m13" x="558"/><use href="#m7" x="618"/><use href="#m4" x="649"/><use href="#m6" x="692"/><use href="#m10" x="729"/><use href="#m20" x="785"/><use href="#m3" x="798"/><use href="#m11" x="832"/></g></g>
<g class="row" id="Pbr022424_1" transform="translate(0,1169)"><text x="362" y="5.3" textLength="80" lengthAdjust="spacingAndGlyphs">Pbr022424.1</text><g transform="matrix(.4337 0 0 1 310 0)"><path d="M341 0H571"/><use href="#m7" x="361"/><use href="#m4" x="392"/><use href="#m6" x="435"/><use href="#m10" x="472"/><use href="#m20" x="530"/><use href="#m3" x="543"/></g></g>
<g class="row" id="Pbr018314_1" transform="translate(0,1190.45)"><text x="362" y="5.3" textLength="80" lengthAdjust="spacingAndGlyphs">Pbr018314.1</text><g transform="matrix(.4337 0 0 1 310 0)"><path d="M341 0H866"/><use href="#m8" x="345"/><use href="#m18" x="377"/><use href="#m2" x="414"/><use href="#m5" x="447"/><use href="#m12" x="467"/><use href="#m1" x="515"/><use href="#m13" x="555"/><use href="#m7" x="614"/><use href="#m4" x="645"/><use href="#m6" x="687"/><use href="#m10" x="724"/><use href="#m20" x="781"/><use href="#m3" x="795"/><use href="#m11" x="828"/></g></g>
<g class="row" id="Pbr022425_1" transform="translate(0,1211.9)"><text x="362" y="5.3" textLength="80" lengthAdjust="spacingAndGlyphs">Pbr022425.1</text><g transform="matrix(.4337 0 0 1 310 0)"><path d="M341 0H866"/><use href="#m8" x="345"/><use href="#m18" x="377"/><use href="#m2" x="414"/><use href="#m5" x="446"/><use href="#m12" x="467"/><use href="#m1" x="515"/><use href="#m13" x="555"/><use href="#m7" x="614"/><use href="#m4" x="645"/><use href="#m6" x="687"/><use href="#m10" x="724"/><use href="#m20" x="781"/><use href="#m3" x="795"/><use href="#m11" x="828"/></g></g>
<g class="row" id="Pbr041427_1" transform="translate(0,1233.35)"><text x="362" y="5.3" textLength="80" lengthAdjust="spacingAndGlyphs">Pbr041427.1</text><g transform="matrix(.4337 0 0 1 310 0)"><path d="M341 0H938"/><use href="#m8" x="375"/><use href="#m2" x="440"/><use href="#m5" x="474"/><use href="#m12" x="512"/><use href="#m1" x="561"/><use href="#m13" x="600"/><use href="#m7" x="677"/><use href="#m4" x="713"/><use href="#m6" x="761"/><use href="#m10" x="798"/><use href="#m3" x="856"/><use href="#m11" x="897"/></g></g>
<g class="row" id="Pbr037462_1" transform="translate(0,1254.8)"><text x="362" y="5.3" textLength="80" lengthAdjust="spacingAndGlyphs">Pbr037462.1</text><g transform="matrix(.4337 0 0 1 310 0)"><path d="M341 0H860"/><use href="#m2" x="420"/><use href="#m5" x="453"/><use href="#m12" x="475"/><use href="#m1" x="523"/><use href="#m13" x="563"/><use href="#m7" x="620"/><use href="#m4" x="650"/><use href="#m6" x="693"/><use href="#m10" x="730"/><use href="#m20" x="777"/><use href="#m3" x="790"/><use href="#m11" x="823"/></g></g>
<g class="row" id="Pbr017697_1" transform="translate(0,1276.25)"><text x="362" y="5.3" textLength="80" lengthAdjust="spacingAndGlyphs">Pbr017697.1</text><g transform="matrix(.4337 0 0 1 310 0)"><path d="M341 0H860"/><use href="#m2" x="420"/><use href="#m5" x="453"/><use href="#m12" x="475"/><use href="#m1" x="523"/><use href="#m13" x="563"/><use href="#m7" x="620"/><use href="#m4" x="650"/><use href="#m6" x="693"/><use href="#m10" x="730"/><use href="#m20" x="777"/><use href="#m3" x="790"/><use href="#m11" x="823"/></g></g>
<g class="row" id="Pbr041550_1" transform="translate(0,1297.7)"><text x="362" y="5.3" textLength="80" lengthAdjust="spacingAndGlyphs">Pbr041550.1</text><g transform="matrix(.4337 0 0 1 310 0)"><path d="M341 0H862"/><use href="#m8" x="360"/><use href="#m2" x="422"/><use href="#m5" x="456"/><use href="#m12" x="478"/><use href="#m1" x="526"/><use href="#m13" x="566"/><use href="#m7" x="622"/><use href="#m4" x="653"/><use href="#m6" x="695"/><use href="#m10" x="733"/><use href="#m20" x="780"/><use href="#m3" x="793"/><use href="#m11" x="826"/></g></g>
<g class="row" id="Pbr021857_1" transform="translate(0,1319.15)"><text x="362" y="5.3" textLength="80" lengthAdjust="spacingAndGlyphs">Pbr021857.1</text><g transform="matrix(.4337 0 0 1 310 0)"><path d="M341 0H860"/><use href="#m8" x="358"/><use href="#m2" x="421"/><use href="#m5" x="454"/><use href="#m12" x="476"/><use href="#m1" x="525"/><use href="#m13" x="565"/><use href="#m7" x="620"/><use href="#m4" x="651"/><use href="#m6" x="694"/><use href="#m10" x="731"/><use href="#m20" x="778"/><use href="#m3" x="791"/><use href="#m11" x="824"/></g></g>
<g class="row" id="Pbr037190_1" transform="translate(0,1340.6)"><text x="362" y="5.3" textLength="80" lengthAdjust="spacingAndGlyphs">Pbr037190.1</text><g transform="matrix(.4337 0 0 1 310 0)"><path d="M341 0H860"/><use href="#m8" x="358"/><use href="#m2" x="421"/><use href="#m5" x="454"/><use href="#m12" x="476"/><use href="#m1" x="525"/><use href="#m13" x="565"/><use href="#m7" x="620"/><use href="#m4" x="651"/><use href="#m6" x="694"/><use href="#m10" x="731"/><use href="#m20" x="778"/><use href="#m3" x="791"/><use href="#m11" x="824"/></g></g>
<g class="row" id="Pbr014082_1" transform="translate(0,1362.05)"><text x="362" y="5.3" textLength="80" lengthAdjust="spacingAndGlyphs">Pbr014082.1</text><g transform="matrix(.4337 0 0 1 310 0)"><path d="M341 0H872"/><use href="#m18" x="378"/><use href="#m2" x="410"/><use href="#m5" x="443"/><use href="#m12" x="466"/><use href="#m1" x="515"/><use href="#m13" x="555"/><use href="#m7" x="612"/><use href="#m4" x="645"/><use href="#m6" x="689"/><use href="#m10" x="727"/><use href="#m20" x="775"/><use href="#m3" x="789"/><use href="#m11" x="826"/></g></g>
<g class="row" id="Pbr019034_1" transform="translate(0,1383.5)"><text x="362" y="5.3" textLength="80" lengthAdjust="spacingAndGlyphs">Pbr019034.1</text><g transform="matrix(.4337 0 0 1 310 0)"><path d="M341 0H928"/><use href="#m18" x="387"/><use href="#m2" x="436"/><use href="#m5" x="468"/><use href="#m12" x="490"/><use href="#m1" x="538"/><use href="#m7" x="686"/><use href="#m4" x="717"/><use href="#m6" x="760"/><use href="#m10" x="797"/><use href="#m11" x="891"/></g></g>
<g class="row" id="Pbr020016_1" transform="translate(0,1404.95)"><text x="362" y="5.3" textLength="80" lengthAdjust="spacingAndGlyphs">Pbr020016.1</text><g transform="matrix(.4337 0 0 1 310 0)"><path d="M341 0H933"/><use href="#m18" x="387"/><use href="#m2" x="436"/><use href="#m5" x="471"/><use href="#m12" x="494"/><use href="#m1" x="542"/><use href="#m7" x="688"/><use href="#m4" x="720"/><use href="#m6" x="763"/><use href="#m10" x="800"/><use href="#m11" x="894"/></g></g>
<g class="row" id="Pbr016167_1" transform="translate(0,1426.4)"><text x="362" y="5.3" textLength="80" lengthAdjust="spacingAndGlyphs">Pbr016167.1</text><g transform="matrix(.4337 0 0 1 310 0)"><path d="M341 0H922"/><use href="#m8" x="343"/><use href="#m2" x="416"/><use href="#m5" x="451"/><use href="#m4" x="684"/><use href="#m6" x="726"/><use href="#m10" x="763"/><use href="#m3" x="828"/><use href="#m11" x="871"/></g></g>
<g class="row" id="Pbr005916_1" transform="translate(0,1447.85)"><text x="362" y="5.3" textLength="80" lengthAdjust="spacingAndGlyphs">Pbr005916.1</text><g transform="matrix(.4337 0 0 1 310 0)"><path d="M341 0H1350"/><use href="#m17" x="432"/><use href="#m8" x="820"/><use href="#m18" x="852"/><use href="#m2" x="880"/><use href="#m5" x="916"/><use href="#m12" x="937"/><use href="#m1" x="986"/><use href="#m13" x="1027"/><use href="#m7" x="1085"/><use href="#m4" x="1112"/><use href="#m6" x="1155"/><use href="#m10" x="1192"/><use href="#m20" x="1240"/><use href="#m3" x="1252"/><use href="#m11" x="1283"/></g></g>
<g class="row" id="Pbr009545_1" transform="translate(0,1469.3)"><text x="362" y="5.3" textLength="80" lengthAdjust="spacingAndGlyphs">Pbr009545.1</text><g transform="matrix(.4337 0 0 1 310 0)"><path d="M341 0H888"/><use href="#m8" x="345"/><use href="#m2" x="415"/><use href="#m5" x="449"/><use href="#m12" x="470"/><use href="#m1" x="519"/><use href="#m13" x="564"/><use href="#m4" x="666"/><use href="#m6" x="709"/><use href="#m10" x="746"/><use href="#m20" x="796"/><use href="#m3" x="808"/><use href="#m11" x="846"/></g></g>
<g class="row" id="Pbr010925_1" transform="translate(0,1490.75)"><text x="362" y="5.3" textLength="80" lengthAdjust="spacingAndGlyphs">Pbr010925.1</text><g transform="matrix(.4337 0 0 1 310 0)"><path d="M341 0H892"/><use href="#m8" x="345"/><use href="#m2" x="415"/><use href="#m5" x="449"/><use href="#m12" x="470"/><use href="#m1" x="519"/><use href="#m13" x="564"/><use href="#m19" x="603"/><use href="#m4" x="663"/><use href="#m6" x="706"/><use href="#m11" x="851"/></g></g>
<g class="row" id="Pbr016740_1" transform="translate(0,1512.2)"><text x="362" y="5.3" textLength="80" lengthAdjust="spacingAndGlyphs">Pbr016740.1</text><g transform="matrix(.4337 0 0 1 310 0)"><path d="M341 0H876"/><use href="#m8" x="356"/><use href="#m18" x="387"/><use href="#m2" x="422"/><use href="#m5" x="456"/><use href="#m12" x="478"/><use href="#m13" x="551"/><use href="#m7" x="604"/><use href="#m4" x="631"/><use href="#m6" x="675"/><use href="#m10" x="712"/><use href="#m3" x="775"/><use href="#m11" x="813"/></g></g>
<g class="row" id="Pbr015411_1" transform="translate(0,1533.65)"><text x="362" y="5.3" textLength="80" lengthAdjust="spacingAndGlyphs">Pbr015411.1</text><g transform="matrix(.4337 0 0 1 310 0)"><path d="M341 0H893"/><use href="#m8" x="356"/><use href="#m18" x="387"/><use href="#m2" x="422"/><use href="#m5" x="456"/><use href="#m12" x="478"/><use href="#m1" x="527"/><use href="#m13" x="566"/><use href="#m7" x="621"/><use href="#m4" x="649"/><use href="#m6" x="692"/><use href="#m10" x="729"/><use href="#m3" x="791"/><use href="#m11" x="830"/></g></g>
<g class="row" id="Pbr006835_1" transform="translate(0,1555.1)"><text x="362" y="5.3" textLength="80" lengthAdjust="spacingAndGlyphs">Pbr006835.1</text><g transform="matrix(.4337 0 0 1 310 0)"><path d="M341 0H882"/><use href="#m8" x="356"/><use href="#m18" x="387"/><use href="#m2" x="421"/><use href="#m5" x="455"/><use href="#m12" x="478"/><use href="#m1" x="526"/><use href="#m13" x="566"/><use href="#m7" x="622"/><use href="#m4" x="649"/><use href="#m6" x="694"/><use href="#m10" x="731"/><use href="#m3" x="794"/><use href="#m11" x="828"/></g></g>
<g class="row" id="Pbr006836_1" transform="translate(0,1576.55)"><text x="362" y="5.3" textLength="80" lengthAdjust="spacingAndGlyphs">Pbr006836.1</text><g transform="matrix(.4337 0 0 1 310 0)"><path d="M341 0H893"/><use href="#m8" x="356"/><use href="#m18" x="387"/><use href="#m2" x="422"/><use href="#m5" x="456"/><use href="#m12" x="478"/><use href="#m1" x="527"/><use href="#m13" x="567"/><use href="#m7" x="626"/><use href="#m4" x="655"/><use href="#m6" x="699"/><use href="#m10" x="736"/><use href="#m3" x="799"/><use href="#m11" x="833"/></g></g>
<g class="row" id="Pbr029548_1" transform="translate(0,1598)"><text x="362" y="5.3" textLength="80" lengthAdjust="spacingAndGlyphs">Pbr029548.1</text><g transform="matrix(.4337 0 0 1 310 0)"><path d="M341 0H893"/><use href="#m8" x="356"/><use href="#m18" x="387"/><use href="#m2" x="422"/><use href="#m5" x="456"/><use href="#m12" x="478"/><use href="#m1" x="527"/><use href="#m13" x="567"/><use href="#m7" x="626"/><use href="#m4" x="655"/><use href="#m6" x="699"/><use href="#m10" x="736"/><use href="#m3" x="799"/><use href="#m11" x="833"/></g></g>
<g class="row" id="Pbr042347_1" transform="translate(0,1619.45)"><text x="362" y="5.3" textLength="80" lengthAdjust="spacingAndGlyphs">Pbr042347.1</text><g transform="matrix(.4337 0 0 1 310 0)"><path d="M341 0H940"/><use href="#m8" x="356"/><use href="#m18" x="387"/><use href="#m2" x="424"/><use href="#m5" x="458"/><use href="#m12" x="481"/><use href="#m1" x="530"/><use href="#m13" x="570"/><use href="#m7" x="626"/><use href="#m4" x="655"/><use href="#m6" x="694"/><use href="#m10" x="731"/><use href="#m3" x="792"/></g></g>
<g class="row" id="Pbr006821_1" transform="translate(0,1640.9)"><text x="362" y="5.3" textLength="80" lengthAdjust="spacingAndGlyphs">Pbr006821.1</text><g transform="matrix(.4337 0 0 1 310 0)"><path d="M341 0H1275"/><use href="#m8" x="352"/><use href="#m18" x="384"/><use href="#m2" x="419"/><use href="#m5" x="453"/><use href="#m12" x="475"/><use href="#m1" x="524"/><use href="#m13" x="564"/><use href="#m7" x="622"/><use href="#m4" x="651"/><use href="#m6" x="694"/><use href="#m10" x="733"/><use href="#m3" x="794"/><use href="#m2" x="986"/></g></g>
<g class="row" id="Pbr029551_1" transform="translate(0,1662.35)"><text x="362" y="5.3" textLength="80" lengthAdjust="spacingAndGlyphs">Pbr029551.1</text><g transform="matrix(.4337 0 0 1 310 0)"><path d="M341 0H862"/><use href="#m8" x="352"/><use href="#m18" x="384"/><use href="#m2" x="420"/><use href="#m5" x="453"/><use href="#m12" x="475"/><use href="#m1" x="524"/><use href="#m13" x="564"/><use href="#m7" x="622"/><use href="#m4" x="651"/><use href="#m6" x="694"/><use href="#m10" x="733"/><use href="#m3" x="794"/><use href="#m11" x="828"/></g></g>
<g class="row" id="Pbr027302_1" transform="translate(0,1683.8)"><text x="362" y="5.3" textLength="80" lengthAdjust="spacingAndGlyphs">Pbr027302.1</text><g transform="matrix(.4337 0 0 1 310 0)"><path d="M341 0H890"/><use href="#m8" x="352"/><use href="#m18" x="384"/><use href="#m2" x="420"/><use href="#m5" x="453"/><use href="#m12" x="475"/><use href="#m1" x="524"/><use href="#m13" x="564"/><use href="#m7" x="622"/><use href="#m4" x="651"/><use href="#m6" x="694"/><use href="#m10" x="733"/><use href="#m3" x="794"/><use href="#m11" x="828"/></g></g>
<g class="row" id="Pbr027303_1" transform="translate(0,1705.25)"><text x="362" y="5.3" textLength="80" lengthAdjust="spacingAndGlyphs">Pbr027303.1</text><g transform="matrix(.4337 0 0 1 310 0)"><path d="M341 0H890"/><use href="#m8" x="352"/><use href="#m18" x="384"/><use href="#m2" x="420"/><use href="#m5" x="453"/><use href="#m12" x="475"/><use href="#m1" x="524"/><use href="#m13" x="564"/><use href="#m7" x="622"/><use href="#m4" x="651"/><use href="#m6" x="694"/><use href="#m10" x="733"/><use href="#m3" x="794"/><use href="#m11" x="828"/></g></g>
<g class="row" id="Pbr010872_1" transform="translate(0,1726.7)"><text x="362" y="5.3" textLength="80" lengthAdjust="spacingAndGlyphs">Pbr010872.1</text><g transform="matrix(.4337 0 0 1 310 0)"><path d="M341 0H853"/><use href="#m8" x="349"/><use href="#m2" x="413"/><use href="#m1" x="519"/><use href="#m7" x="609"/><use href="#m4" x="642"/><use href="#m6" x="685"/><use href="#m3" x="789"/></g></g>
<g class="row" id="Pbr009486_1" transform="translate(0,1748.15)"><text x="362" y="5.3" textLength="80" lengthAdjust="spacingAndGlyphs">Pbr009486.1</text><g transform="matrix(.4337 0 0 1 310 0)"><path d="M341 0H700"/><use href="#m7" x="389"/><use href="#m4" x="477"/><use href="#m6" x="519"/><use href="#m20" x="610"/><use href="#m3" x="622"/><use href="#m9" x="657"/></g></g>
<g class="row" id="Pbr011342_2" transform="translate(0,1769.6)"><text x="362" y="5.3" textLength="80" lengthAdjust="spacingAndGlyphs">Pbr011342.2</text><g transform="matrix(.4337 0 0 1 310 0)"><path d="M341 0H784"/><use href="#m2" x="420"/><use href="#m5" x="453"/><use href="#m1" x="525"/><use href="#m7" x="624"/><use href="#m4" x="711"/><use href="#m6" x="753"/></g></g>
<g class="row" id="Pbr012356_2" transform="translate(0,1791.05)"><text x="362" y="5.3" textLength="80" lengthAdjust="spacingAndGlyphs">Pbr012356.2</text><g transform="matrix(.4337 0 0 1 310 0)"><path d="M341 0H895"/><use href="#m2" x="416"/><use href="#m5" x="449"/><use href="#m1" x="522"/><use href="#m7" x="608"/><use href="#m10" x="733"/><use href="#m20" x="786"/><use href="#m3" x="798"/><use href="#m9" x="834"/></g></g>
<g class="row" id="Pbr035966_1" transform="translate(0,1812.5)"><text x="362" y="5.3" textLength="80" lengthAdjust="spacingAndGlyphs">Pbr035966.1</text><g transform="matrix(.4337 0 0 1 310 0)"><path d="M341 0H922"/><use href="#m2" x="416"/><use href="#m5" x="449"/><use href="#m1" x="522"/><use href="#m7" x="608"/><use href="#m4" x="692"/><use href="#m6" x="735"/><use href="#m20" x="824"/><use href="#m3" x="837"/><use href="#m9" x="872"/></g></g>
<g class="row" id="Pbr019665_1" transform="translate(0,1833.95)"><text x="362" y="5.3" textLength="80" lengthAdjust="spacingAndGlyphs">Pbr019665.1</text><g transform="matrix(.4337 0 0 1 310 0)"><path d="M341 0H860"/><use href="#m2" x="424"/><use href="#m1" x="535"/><use href="#m7" x="634"/><use href="#m6" x="677"/><use href="#m15" x="695"/><use href="#m3" x="781"/><use href="#m9" x="814"/></g></g>
<g class="row" id="Pbr019664_1" transform="translate(0,1855.4)"><text x="362" y="5.3" textLength="80" lengthAdjust="spacingAndGlyphs">Pbr019664.1</text><g transform="matrix(.4337 0 0 1 310 0)"><path d="M341 0H853"/><use href="#m11" x="343"/><use href="#m2" x="424"/><use href="#m1" x="535"/><use href="#m7" x="632"/><use href="#m4" x="662"/><use href="#m10" x="708"/><use href="#m20" x="760"/><use href="#m3" x="773"/><use href="#m9" x="807"/></g></g>
<g class="row" id="Pbr025171_1" transform="translate(0,1876.85)"><text x="362" y="5.3" textLength="80" lengthAdjust="spacingAndGlyphs">Pbr025171.1</text><g transform="matrix(.4337 0 0 1 310 0)"><path d="M341 0H880"/><use href="#m2" x="416"/><use href="#m5" x="453"/><use href="#m1" x="527"/><use href="#m6" x="595"/><use href="#m7" x="620"/><use href="#m4" x="656"/><use href="#m6" x="701"/><use href="#m10" x="738"/><use href="#m3" x="803"/><use href="#m11" x="836"/></g></g>
<g class="row" id="Pbr035698_1" transform="translate(0,1898.3)"><text x="362" y="5.3" textLength="80" lengthAdjust="spacingAndGlyphs">Pbr035698.1</text><g transform="matrix(.4337 0 0 1 310 0)"><path d="M341 0H880"/><use href="#m2" x="416"/><use href="#m5" x="453"/><use href="#m1" x="527"/><use href="#m6" x="595"/><use href="#m7" x="620"/><use href="#m4" x="656"/><use href="#m6" x="701"/><use href="#m10" x="738"/><use href="#m20" x="790"/><use href="#m3" x="803"/><use href="#m11" x="836"/></g></g>
<g class="row" id="Pbr029857_1" transform="translate(0,1919.75)"><text x="362" y="5.3" textLength="80" lengthAdjust="spacingAndGlyphs">Pbr029857.1</text><g transform="matrix(.4337 0 0 1 310 0)"><path d="M341 0H886"/><use href="#m8" x="345"/><use href="#m2" x="420"/><use href="#m5" x="458"/><use href="#m1" x="533"/><use href="#m7" x="632"/><use href="#m4" x="663"/><use href="#m6" x="706"/><use href="#m20" x="795"/><use href="#m3" x="808"/><use href="#m11" x="842"/></g></g>
<g class="row" id="Pbr004638_1" transform="translate(0,1941.2)"><text x="362" y="5.3" textLength="80" lengthAdjust="spacingAndGlyphs">Pbr004638.1</text><g transform="matrix(.4337 0 0 1 310 0)"><path d="M341 0H890"/><use href="#m2" x="416"/><use href="#m5" x="456"/><use href="#m1" x="529"/><use href="#m7" x="632"/><use href="#m4" x="665"/><use href="#m6" x="708"/><use href="#m3" x="812"/></g></g>
<g class="row" id="Pbr025170_1" transform="translate(0,1962.65)"><text x="362" y="5.3" textLength="80" lengthAdjust="spacingAndGlyphs">Pbr025170.1</text><g transform="matrix(.4337 0 0 1 310 0)"><path d="M341 0H509"/><use href="#m2" x="347"/><use href="#m5" x="382"/><use href="#m1" x="456"/></g></g>
<g class="row" id="Pbr035699_1" transform="translate(0,1984.1)"><text x="362" y="5.3" textLength="80" lengthAdjust="spacingAndGlyphs">Pbr035699.1</text><g transform="matrix(.4337 0 0 1 310 0)"><path d="M341 0H699"/><use href="#m2" x="413"/><use href="#m5" x="446"/><use href="#m1" x="520"/><use href="#m7" x="569"/><use href="#m4" x="598"/><use href="#m6" x="641"/></g></g>
<g class="row" id="Pbr023816_1" transform="translate(0,2005.55)"><text x="362" y="5.3" textLength="80" lengthAdjust="spacingAndGlyphs">Pbr023816.1</text><g transform="matrix(.4337 0 0 1 310 0)"><path d="M341 0H912"/><use href="#m20" x="380"/><use href="#m2" x="422"/><use href="#m14" x="443"/><use href="#m16" x="491"/><use href="#m1" x="540"/><use href="#m19" x="595"/><use href="#m7" x="650"/><use href="#m4" x="686"/><use href="#m6" x="738"/><use href="#m15" x="755"/><use href="#m3" x="836"/><use href="#m11" x="870"/></g></g>
<g class="row" id="Pbr018023_1" transform="translate(0,2027)"><text x="362" y="5.3" textLength="80" lengthAdjust="spacingAndGlyphs">Pbr018023.1</text><g transform="matrix(.4337 0 0 1 310 0)"><path d="M341 0H907"/><use href="#m2" x="419"/><use href="#m14" x="439"/><use href="#m16" x="490"/><use href="#m1" x="537"/><use href="#m19" x="590"/><use href="#m7" x="642"/><use href="#m4" x="677"/><use href="#m6" x="731"/><use href="#m15" x="749"/><use href="#m3" x="829"/><use href="#m11" x="863"/></g></g>
<g class="row" id="Pbr006455_1" transform="translate(0,2048.45)"><text x="362" y="5.3" textLength="80" lengthAdjust="spacingAndGlyphs">Pbr006455.1</text><g transform="matrix(.4337 0 0 1 310 0)"><path d="M341 0H700"/><use href="#m2" x="382"/><use href="#m14" x="400"/><use href="#m16" x="454"/><use href="#m6" x="520"/><use href="#m15" x="537"/><use href="#m3" x="620"/><use href="#m11" x="657"/></g></g>
<g class="row" id="Pbr006478_1" transform="translate(0,2069.9)"><text x="362" y="5.3" textLength="80" lengthAdjust="spacingAndGlyphs">Pbr006478.1</text><g transform="matrix(.4337 0 0 1 310 0)"><path d="M341 0H815"/><use href="#m20" x="387"/><use href="#m16" x="412"/><use href="#m1" x="448"/><use href="#m19" x="502"/><use href="#m7" x="556"/><use href="#m4" x="594"/><use href="#m6" x="639"/><use href="#m15" x="657"/><use href="#m3" x="740"/><use href="#m11" x="774"/></g></g>
<g class="row" id="Pbr006456_1" transform="translate(0,2091.35)"><text x="362" y="5.3" textLength="80" lengthAdjust="spacingAndGlyphs">Pbr006456.1</text><g transform="matrix(.4337 0 0 1 310 0)"><path d="M341 0H592"/><use href="#m7" x="373"/><use href="#m6" x="415"/><use href="#m15" x="433"/><use href="#m3" x="516"/><use href="#m11" x="549"/></g></g>
<g class="row" id="Pbr006391_1" transform="translate(0,2112.8)"><text x="362" y="5.3" textLength="80" lengthAdjust="spacingAndGlyphs">Pbr006391.1</text><g transform="matrix(.4337 0 0 1 310 0)"><path d="M341 0H935"/><use href="#m2" x="436"/><use href="#m14" x="455"/><use href="#m16" x="507"/><use href="#m1" x="543"/><use href="#m7" x="630"/><use href="#m4" x="676"/><use href="#m6" x="718"/><use href="#m15" x="736"/><use href="#m3" x="825"/><use href="#m11" x="858"/></g></g>
<g class="row" id="Pbr038368_1" transform="translate(0,2134.25)"><text x="362" y="5.3" textLength="80" lengthAdjust="spacingAndGlyphs">Pbr038368.1</text><g transform="matrix(.4337 0 0 1 310 0)"><path d="M341 0H957"/><use href="#m20" x="414"/><use href="#m2" x="463"/><use href="#m14" x="483"/><use href="#m16" x="533"/><use href="#m1" x="569"/><use href="#m19" x="631"/><use href="#m7" x="685"/><use href="#m4" x="722"/><use href="#m6" x="770"/><use href="#m15" x="789"/><use href="#m3" x="881"/><use href="#m11" x="915"/></g></g>
<g class="row" id="Pbr038373_1" transform="translate(0,2155.7)"><text x="362" y="5.3" textLength="80" lengthAdjust="spacingAndGlyphs">Pbr038373.1</text><g transform="matrix(.4337 0 0 1 310 0)"><path d="M341 0H955"/><use href="#m20" x="414"/><use href="#m2" x="463"/><use href="#m14" x="483"/><use href="#m16" x="533"/><use href="#m1" x="569"/><use href="#m19" x="631"/><use href="#m7" x="685"/><use href="#m4" x="722"/><use href="#m6" x="770"/><use href="#m15" x="789"/><use href="#m3" x="879"/><use href="#m11" x="913"/></g></g>
<g class="row" id="Pbr006639_1" transform="translate(0,2177.15)"><text x="362" y="5.3" textLength="80" lengthAdjust="spacingAndGlyphs">Pbr006639.1</text><g transform="matrix(.4337 0 0 1 310 0)"><path d="M341 0H880"/><use href="#m20" x="377"/><use href="#m2" x="422"/><use href="#m14" x="442"/><use href="#m16" x="493"/><use href="#m1" x="528"/><use href="#m19" x="582"/><use href="#m7" x="635"/><use href="#m4" x="670"/><use href="#m6" x="712"/><use href="#m15" x="730"/><use href="#m3" x="807"/><use href="#m11" x="841"/></g></g>
<g class="row" id="Pbr006482_1" transform="translate(0,2198.6)"><text x="362" y="5.3" textLength="80" lengthAdjust="spacingAndGlyphs">Pbr006482.1</text><g transform="matrix(.4337 0 0 1 310 0)"><path d="M341 0H608"/><use href="#m2" x="378"/><use href="#m14" x="398"/><use href="#m16" x="449"/><use href="#m1" x="484"/><use href="#m19" x="551"/></g></g>
<g class="row" id="Pbr006453_1" transform="translate(0,2220.05)"><text x="362" y="5.3" textLength="80" lengthAdjust="spacingAndGlyphs">Pbr006453.1</text><g transform="matrix(.4337 0 0 1 310 0)"><path d="M341 0H712"/><use href="#m20" x="383"/><use href="#m2" x="422"/><use href="#m14" x="442"/><use href="#m16" x="493"/><use href="#m1" x="528"/><use href="#m19" x="595"/><use href="#m7" x="644"/></g></g>
<g class="row" id="Pbr006481_1" transform="translate(0,2241.5)"><text x="362" y="5.3" textLength="80" lengthAdjust="spacingAndGlyphs">Pbr006481.1</text><g transform="matrix(.4337 0 0 1 310 0)"><path d="M341 0H592"/><use href="#m4" x="359"/><use href="#m6" x="401"/><use href="#m15" x="419"/><use href="#m3" x="497"/><use href="#m11" x="532"/></g></g>
<g class="row" id="Pbr006454_1" transform="translate(0,2262.95)"><text x="362" y="5.3" textLength="80" lengthAdjust="spacingAndGlyphs">Pbr006454.1</text><g transform="matrix(.4337 0 0 1 310 0)"><path d="M341 0H897"/><use href="#m20" x="383"/><use href="#m2" x="422"/><use href="#m14" x="442"/><use href="#m16" x="493"/><use href="#m1" x="528"/><use href="#m19" x="595"/><use href="#m7" x="644"/><use href="#m4" x="680"/><use href="#m6" x="722"/><use href="#m15" x="740"/><use href="#m3" x="820"/><use href="#m11" x="852"/></g></g>
<g class="row" id="Pbr006480_1" transform="translate(0,2284.4)"><text x="362" y="5.3" textLength="80" lengthAdjust="spacingAndGlyphs">Pbr006480.1</text><g transform="matrix(.4337 0 0 1 310 0)"><path d="M341 0H897"/><use href="#m20" x="383"/><use href="#m2" x="422"/><use href="#m14" x="442"/><use href="#m16" x="493"/><use href="#m1" x="528"/><use href="#m19" x="595"/><use href="#m7" x="644"/><use href="#m4" x="680"/><use href="#m6" x="722"/><use href="#m15" x="740"/><use href="#m3" x="820"/><use href="#m11" x="852"/></g></g>
<g class="row" id="Pbr006452_1" transform="translate(0,2305.85)"><text x="362" y="5.3" textLength="80" lengthAdjust="spacingAndGlyphs">Pbr006452.1</text><g transform="matrix(.4337 0 0 1 310 0)"><path d="M341 0H868"/><use href="#m20" x="377"/><use href="#m14" x="440"/><use href="#m16" x="491"/><use href="#m1" x="545"/><use href="#m19" x="599"/><use href="#m7" x="649"/><use href="#m4" x="692"/><use href="#m6" x="734"/><use href="#m15" x="751"/><use href="#m11" x="827"/></g></g>
<g class="row" id="Pbr006451_1" transform="translate(0,2327.3)"><text x="362" y="5.3" textLength="80" lengthAdjust="spacingAndGlyphs">Pbr006451.1</text><g transform="matrix(.4337 0 0 1 310 0)"><path d="M341 0H1000"/><use href="#m18" x="396"/><use href="#m20" x="487"/><use href="#m14" x="549"/><use href="#m16" x="600"/><use href="#m1" x="636"/><use href="#m19" x="690"/><use href="#m7" x="740"/><use href="#m4" x="782"/><use href="#m6" x="823"/><use href="#m15" x="841"/><use href="#m3" x="925"/><use href="#m11" x="959"/></g></g>
<g class="row" id="Pbr006484_3" transform="translate(0,2348.75)"><text x="362" y="5.3" textLength="80" lengthAdjust="spacingAndGlyphs">Pbr006484.3</text><g transform="matrix(.4337 0 0 1 310 0)"><path d="M341 0H652"/><use href="#m7" x="390"/><use href="#m4" x="433"/><use href="#m6" x="474"/><use href="#m15" x="492"/><use href="#m3" x="576"/><use href="#m11" x="610"/></g></g>
<g class="row" id="Pbr022241_1" transform="translate(0,2370.2)"><text x="362" y="5.3" textLength="80" lengthAdjust="spacingAndGlyphs">Pbr022241.1</text><g transform="matrix(.4337 0 0 1 310 0)"><path d="M341 0H907"/><use href="#m8" x="352"/><use href="#m20" x="385"/><use href="#m2" x="428"/><use href="#m14" x="447"/><use href="#m16" x="498"/><use href="#m1" x="535"/><use href="#m19" x="589"/><use href="#m7" x="638"/><use href="#m4" x="682"/><use href="#m6" x="724"/><use href="#m15" x="742"/><use href="#m3" x="828"/><use href="#m11" x="861"/></g></g>
<g class="row" id="Pbr013743_1" transform="translate(0,2391.65)"><text x="362" y="5.3" textLength="80" lengthAdjust="spacingAndGlyphs">Pbr013743.1</text><g transform="matrix(.4337 0 0 1 310 0)"><path d="M341 0H843"/><use href="#m20" x="385"/><use href="#m2" x="428"/><use href="#m14" x="447"/><use href="#m16" x="498"/><use href="#m19" x="557"/><use href="#m7" x="607"/><use href="#m4" x="652"/><use href="#m6" x="693"/><use href="#m15" x="710"/><use href="#m3" x="795"/></g></g>
<g class="row" id="Pbr013744_2" transform="translate(0,2413.1)"><text x="362" y="5.3" textLength="80" lengthAdjust="spacingAndGlyphs">Pbr013744.2</text><g transform="matrix(.4337 0 0 1 310 0)"><path d="M341 0H843"/><use href="#m2" x="363"/><use href="#m14" x="382"/><use href="#m16" x="434"/><use href="#m1" x="469"/><use href="#m19" x="525"/><use href="#m7" x="574"/><use href="#m4" x="618"/><use href="#m6" x="660"/><use href="#m15" x="677"/><use href="#m3" x="761"/><use href="#m11" x="795"/></g></g>
<g class="row" id="Pbr016548_3" transform="translate(0,2434.55)"><text x="362" y="5.3" textLength="80" lengthAdjust="spacingAndGlyphs">Pbr016548.3</text><g transform="matrix(.4337 0 0 1 310 0)"><path d="M341 0H748"/><use href="#m16" x="370"/><use href="#m1" x="406"/><use href="#m19" x="460"/><use href="#m7" x="510"/><use href="#m6" x="566"/><use href="#m15" x="583"/><use href="#m3" x="668"/><use href="#m11" x="701"/></g></g>
</g>
<g id="legend" class="lg">
<rect x="947" y="8.7" width="105" height="14" rx="4" fill="#ff8c14"/><text x="1075" y="21.7">Motif 8</text>
<rect x="947" y="29.7" width="105" height="14" rx="4" fill="#157a08"/><text x="1075" y="42.7">Motif 18</text>
<rect x="947" y="50.7" width="105" height="14" rx="4" fill="#ffcc00"/><text x="1075" y="63.7">Motif 2</text>
<rect x="947" y="71.7" width="105" height="14" rx="4" fill="#f7001e"/><text x="1075" y="84.7">Motif 5</text>
<rect x="947" y="92.7" width="105" height="14" rx="4" fill="#4ddf0a"/><text x="1075" y="105.7">Motif 1</text>
<rect x="947" y="113.7" width="105" height="14" rx="4" fill="#8ef065"/><text x="1075" y="126.7">Motif 7</text>
<rect x="947" y="134.7" width="105" height="14" rx="4" fill="#05963c"/><text x="1075" y="147.7">Motif 4</text>
<rect x="947" y="155.7" width="105" height="14" rx="4" fill="#7a80bb"/><text x="1075" y="168.7">Motif 6</text>
<rect x="947" y="176.7" width="105" height="14" rx="4" fill="#2e0000"/><text x="1075" y="189.7">Motif 17</text>
<rect x="947" y="197.7" width="105" height="14" rx="4" fill="#8b4513"/><text x="1075" y="210.7">Motif 20</text>
<rect x="947" y="218.7" width="105" height="14" rx="4" fill="#f52ea0"/><text x="1075" y="231.7">Motif 3</text>
<rect x="947" y="239.7" width="105" height="14" rx="4" fill="#2414b8"/><text x="1075" y="252.7">Motif 9</text>
<rect x="947" y="260.7" width="105" height="14" rx="4" fill="#d4200f"/><text x="1075" y="273.7">Motif 12</text>
<rect x="947" y="281.7" width="105" height="14" rx="4" fill="#cc0000"/><text x="1075" y="294.7">Motif 16</text>
<rect x="947" y="302.7" width="105" height="14" rx="4" fill="#f7a584"/><text x="1075" y="315.7">Motif 10</text>
<rect x="947" y="323.7" width="105" height="14" rx="4" fill="#1a60f5"/><text x="1075" y="336.7">Motif 15</text>
<rect x="947" y="344.7" width="105" height="14" rx="4" fill="#38e35a"/><text x="1075" y="357.7">Motif 13</text>
<rect x="947" y="365.7" width="105" height="14" rx="4" fill="#4e7d4a"/><text x="1075" y="378.7">Motif 11</text>
<rect x="947" y="386.7" width="105" height="14" rx="4" fill="#00003c"/><text x="1075" y="399.7">Motif 19</text>
<rect x="947" y="407.7" width="105" height="14" rx="4" fill="#ee62c2"/><text x="1075" y="420.7">Motif 14</text>
</g>
<g id="axis" class="ax">
<path d="M459.6 2452.7H974.8M459.6 2452.7V2462M716.2 2452.7V2462M974.8 2452.7V2462" stroke="#1e1e3c" stroke-width="1.6" fill="none"/>
<text x="458" y="2456" text-anchor="end" style="font-size:17px">5'</text>
<text x="977" y="2456" style="font-size:17px">3'</text>
<text x="459.6" y="2480" text-anchor="middle">0</text>
<text x="716.2" y="2480" text-anchor="middle">500</text>
<text x="974.8" y="2480" text-anchor="middle">1000</text>
</g>
</svg>
